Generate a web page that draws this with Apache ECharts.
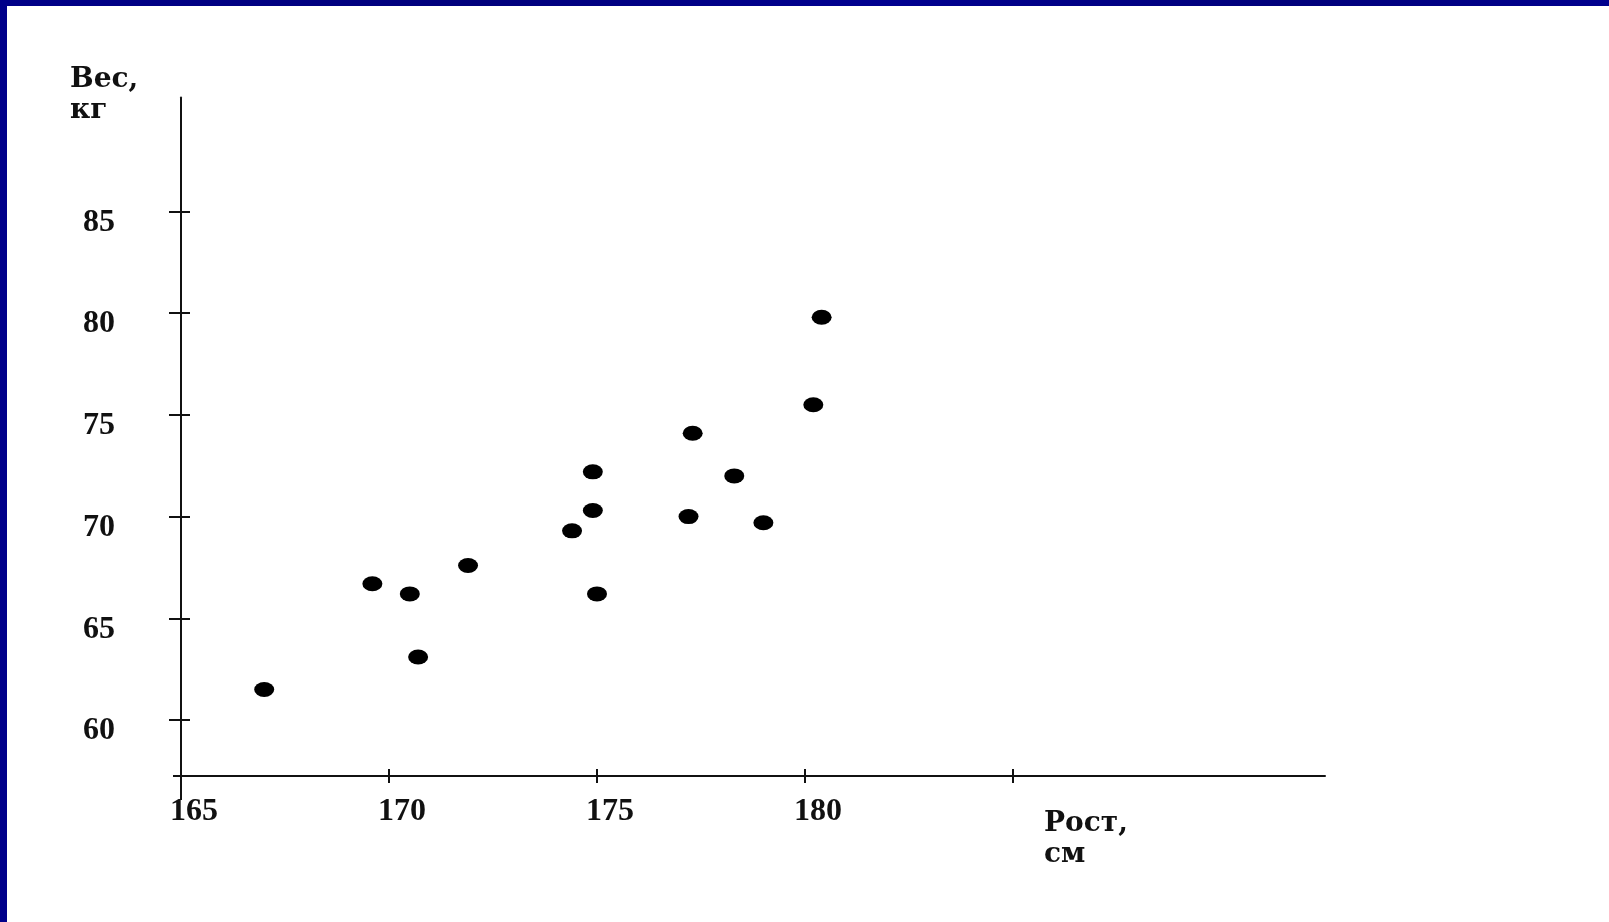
<!DOCTYPE html>
<html lang="ru">
<head>
	<meta charset="UTF-8">
	<title>Рост и вес</title>
	<style>
		*{
			margin: 0;
			padding: 0;
		}
		body{
			background: #fff;
		}
		.box{
			position: relative;
			width: 1609px;
			height: 922px;
			background: #fff;
		}
		/* navy frame on top and left edges */
		.box:before,.box:after{
			content: '';
			position: absolute;
			z-index: 5;
			pointer-events: none;
		}
		.box:before{
			left: 0; top: 0; width: 1609px; height: 6px;
			background: linear-gradient(90deg, #000088 0%, #00007c 30%, #000090 55%, #00007a 80%, #00008e 100%);
		}
		.box:after{
			left: 0; top: 0; width: 7px; height: 922px;
			background: #00008a;
		}
		#chart{
			width: 1609px;
			height: 922px;
		}
	</style>
	<script src="https://cdn.jsdelivr.net/npm/echarts@6/dist/echarts.min.js"></script>
</head>
<body>
	<div class="box">
		<div id="chart"></div>
	</div>
	<script>
		// рост, см
		var heights = [167.0, 169.6, 170.5, 170.7, 171.9, 174.4, 174.9, 174.9, 175.0, 177.2, 177.3, 178.3, 179.0, 180.2, 180.4];
		// вес, кг
		var weights = [61.5, 66.7, 66.2, 63.1, 67.6, 69.3, 72.2, 70.3, 66.2, 70.0, 74.1, 72.0, 69.7, 75.5, 79.8];

		var xTicks = [170, 175, 180, 185];
		var xLabels = [165, 170, 175, 180];
		var yTicks = [60, 65, 70, 75, 80, 85];

		var xMin = 165, xMax = 192.5;
		var yMin = 57.25, yMax = 90.6;

		var labelFont = {
			fontFamily: '"Liberation Serif", serif',
			fontWeight: 'bold',
			fontSize: 32,
			color: '#111'
		};
		var nameFont = 'bold 28px "DejaVu Serif", serif';
		var ink = '#111';

		var points = heights.map((h, i) => [h, weights[i]]);

		var chart = echarts.init(document.getElementById('chart'));
		var option = {
			animation: false,
			backgroundColor: '#fff',
			grid: {
				left: 181,
				top: 97.5,
				right: 284,
				bottom: 146,
				containLabel: false
			},
			xAxis: [
				{
					type: 'value',
					position: 'bottom',
					min: xMin,
					max: xMax,
					axisLine: {onZero: false, lineStyle: {color: ink, width: 2}},
					axisTick: {customValues: xTicks, inside: false, length: 7, lineStyle: {color: ink, width: 2}},
					axisLabel: Object.assign({customValues: xLabels, margin: 20, padding: [0, 0, 0, 26]}, labelFont),
					splitLine: {show: false}
				},
				{
					// upper half of the crossing ticks
					type: 'value',
					position: 'bottom',
					min: xMin,
					max: xMax,
					axisLine: {show: false, onZero: false},
					axisTick: {customValues: xTicks, inside: true, length: 7, lineStyle: {color: ink, width: 2}},
					axisLabel: {show: false},
					splitLine: {show: false}
				},
				{
					// vertical axis runs a bit below the origin
					type: 'value',
					position: 'bottom',
					min: xMin,
					max: xMax,
					axisLine: {show: false, onZero: false},
					axisTick: {customValues: [xMin], inside: false, length: 24, lineStyle: {color: ink, width: 2}},
					axisLabel: {show: false},
					splitLine: {show: false}
				}
			],
			yAxis: [
				{
					type: 'value',
					position: 'left',
					min: yMin,
					max: yMax,
					axisLine: {show: true, onZero: false, lineStyle: {color: ink, width: 2}},
					axisTick: {show: true, customValues: yTicks, inside: false, length: 12, lineStyle: {color: ink, width: 2}},
					axisLabel: Object.assign({customValues: yTicks, margin: 66, verticalAlign: 'top', lineHeight: 22}, labelFont),
					splitLine: {show: false}
				},
				{
					type: 'value',
					position: 'left',
					min: yMin,
					max: yMax,
					axisLine: {show: false, onZero: false},
					axisTick: {show: true, customValues: yTicks, inside: true, length: 9, lineStyle: {color: ink, width: 2}},
					axisLabel: {show: false},
					splitLine: {show: false}
				},
				{
					// horizontal axis sticks out left of the origin
					type: 'value',
					position: 'left',
					min: yMin,
					max: yMax,
					axisLine: {show: false, onZero: false},
					axisTick: {show: true, customValues: [yMin], inside: false, length: 8, lineStyle: {color: ink, width: 2}},
					axisLabel: {show: false},
					splitLine: {show: false}
				}
			],
			graphic: [
				{
					type: 'text',
					left: 70,
					top: 64,
					style: {text: 'Вес,\nкг', font: nameFont, fill: '#111', lineHeight: 31}
				},
				{
					type: 'text',
					left: 1044,
					top: 808,
					style: {text: 'Рост,\nсм', font: nameFont, fill: '#111', lineHeight: 31}
				}
			],
			series: [
				{
					name: 'Рост / вес',
					type: 'scatter',
					xAxisIndex: 0,
					yAxisIndex: 0,
					symbol: 'circle',
					symbolSize: [20, 15],
					itemStyle: {color: '#000', opacity: 1},
					data: points
				}
			]
		};
		chart.setOption(option);
	</script>
</body>
</html>
